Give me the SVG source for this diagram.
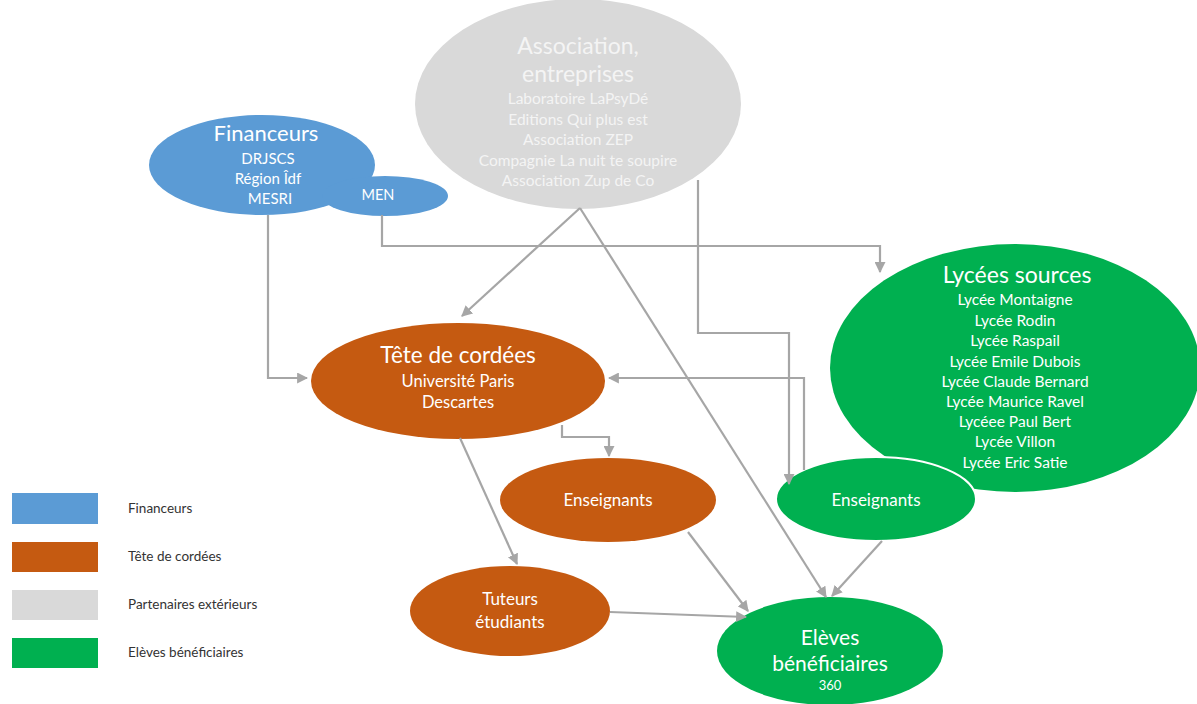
<svg xmlns="http://www.w3.org/2000/svg" width="1197" height="704" viewBox="0 0 1197 704">
<defs>
<marker id="ah" viewBox="0 0 10 10" refX="9" refY="5" markerWidth="5" markerHeight="5" orient="auto" markerUnits="strokeWidth">
<path d="M0,0 L10,5 L0,10 z" fill="#a6a6a6"/>
</marker>
<style>
text{font-family:"Lato","Liberation Sans",sans-serif;text-anchor:middle}
.w{fill:#ffffff}
.g{fill:#f4f4f4}
.c{fill:none;stroke:#a6a6a6;stroke-width:2.2;marker-end:url(#ah)}
.lg{fill:#333333;font-size:13.5px;text-anchor:start}
</style>
</defs>
<rect width="1197" height="704" fill="#ffffff"/>

<g id="node-partenaires">
<ellipse cx="578" cy="104" rx="163" ry="105" fill="#d9d9d9"/>
<text class="g" x="578" y="54" font-size="23">Association,</text>
<text class="g" x="578" y="82" font-size="23">entreprises</text>
<text class="g" x="578" y="104" font-size="15.5">Laboratoire LaPsyDé</text>
<text class="g" x="578" y="125" font-size="15.5">Editions Qui plus est</text>
<text class="g" x="578" y="145" font-size="15.5">Association ZEP</text>
<text class="g" x="578" y="166" font-size="15.5">Compagnie La nuit te soupire</text>
<text class="g" x="578" y="186" font-size="15.5">Association Zup de Co</text>
</g>

<g id="node-financeurs">
<ellipse cx="262" cy="165" rx="113" ry="50" fill="#5b9bd5"/>
<ellipse cx="385" cy="196" rx="63" ry="20" fill="#5b9bd5"/>
<text class="w" x="266" y="141" font-size="22">Financeurs</text>
<text class="w" x="268" y="164" font-size="15">DRJSCS</text>
<text class="w" x="268" y="184" font-size="15">Région Îdf</text>
<text class="w" x="270" y="204" font-size="15">MESRI</text>
<text class="w" x="378" y="200" font-size="14.5">MEN</text>
</g>

<g id="node-lycees">
<ellipse cx="1015" cy="368" rx="185" ry="124" fill="#00b050"/>
<text class="w" x="1017" y="283" font-size="23">Lycées sources</text>
<text class="w" x="1015" y="305" font-size="15.5">Lycée Montaigne</text>
<text class="w" x="1015" y="326" font-size="15.5">Lycée Rodin</text>
<text class="w" x="1015" y="346" font-size="15.5">Lycée Raspail</text>
<text class="w" x="1015" y="367" font-size="15.5">Lycée Emile Dubois</text>
<text class="w" x="1015" y="387" font-size="15.5">Lycée Claude Bernard</text>
<text class="w" x="1015" y="407" font-size="15.5">Lycée Maurice Ravel</text>
<text class="w" x="1015" y="427" font-size="15.5">Lycéee Paul Bert</text>
<text class="w" x="1015" y="447" font-size="15.5">Lycée Villon</text>
<text class="w" x="1015" y="468" font-size="15.5">Lycée Eric Satie</text>
</g>

<g id="node-tete">
<ellipse cx="458" cy="381" rx="147" ry="58" fill="#c55a11"/>
<text class="w" x="458" y="363" font-size="22.5">Tête de cordées</text>
<text class="w" x="458" y="387" font-size="16.5">Université Paris</text>
<text class="w" x="458" y="408" font-size="16.5">Descartes</text>
</g>

<g id="node-enseignants-univ">
<ellipse cx="608" cy="500" rx="108" ry="42" fill="#c55a11"/>
<text class="w" x="608" y="506" font-size="17">Enseignants</text>
</g>

<g id="node-enseignants-lycees">
<ellipse cx="876" cy="499" rx="100" ry="42" fill="#00b050" stroke="#ffffff" stroke-width="2"/>
<text class="w" x="876" y="506" font-size="17">Enseignants</text>
</g>

<g id="node-tuteurs">
<ellipse cx="510" cy="611" rx="100" ry="45" fill="#c55a11"/>
<text class="w" x="510" y="605" font-size="17">Tuteurs</text>
<text class="w" x="510" y="628" font-size="17">étudiants</text>
</g>

<g id="node-eleves">
<ellipse cx="830" cy="651" rx="113" ry="54" fill="#00b050"/>
<text class="w" x="830" y="645" font-size="21">Elèves</text>
<text class="w" x="830" y="671" font-size="21">bénéficiaires</text>
<text class="w" x="830" y="690" font-size="13">360</text>
</g>

<g id="connectors">
<path class="c" d="M268,215 V378 H307"/>
<path class="c" d="M382,215 V246 H880 V272"/>
<path class="c" d="M580,208 L462,316"/>
<path class="c" d="M580,208 L826,597"/>
<path class="c" d="M698,180 V333 H789 V484"/>
<path class="c" d="M804,470 V378 H609"/>
<path class="c" d="M562,425 V437 H609 V456"/>
<path class="c" d="M460,438 L517,564"/>
<path class="c" d="M688,532 L748,611"/>
<path class="c" d="M610,612 L746,617"/>
<path class="c" d="M882,541 L832,596"/>
</g>

<g id="legend">
<rect x="12" y="493" width="86" height="31" fill="#5b9bd5"/>
<rect x="12" y="542" width="86" height="30" fill="#c55a11"/>
<rect x="12" y="590" width="86" height="30" fill="#d9d9d9"/>
<rect x="12" y="638" width="86" height="30" fill="#00b050"/>
<text class="lg" x="128" y="513">Financeurs</text>
<text class="lg" x="128" y="561">Tête de cordées</text>
<text class="lg" x="128" y="609">Partenaires extérieurs</text>
<text class="lg" x="128" y="657">Elèves bénéficiaires</text>
</g>
</svg>
